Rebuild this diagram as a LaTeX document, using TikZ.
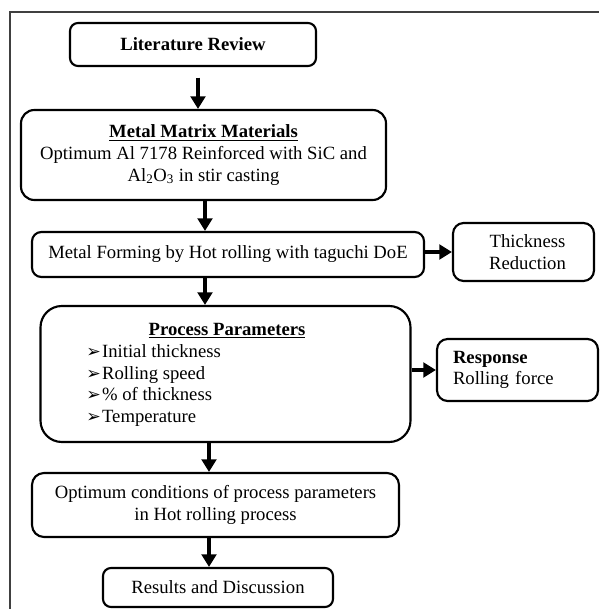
\documentclass[tikz,border=0pt]{standalone}
\usepackage{fontspec}
\setmainfont{Liberation Serif}
\newfontfamily\arrowfont{DejaVu Sans}
\usetikzlibrary{arrows.meta}
\newcommand{\pitem}{{\arrowfont\fontsize{13}{12}\selectfont ➢}\hspace{1pt}}

\begin{document}
\begin{tikzpicture}[x=0.75pt,y=0.75pt,yscale=-1,xscale=1,
  box/.style={draw, line width=1.6pt, inner sep=0pt, align=center, font=\fontsize{14}{16.2}\selectfont},
  txt/.style={inner sep=0pt, font=\fontsize{14}{16.3}\selectfont},
  flow/.style={line width=3pt, -{Triangle[length=9.5pt,width=11pt]}}]
\useasboundingbox (0,0) rectangle (599,609);
% frame
\draw [line width=1.1pt, black!75] (10,609) -- (10,12) -- (599,12) ;
% boxes
\node [box, rounded corners=6pt, minimum width=184.5pt, minimum height=32.25pt] (lit) at (193,44.5) {\textbf{Literature Review}};
\node [box, rounded corners=10pt, minimum width=273.75pt, minimum height=67.5pt] (mmm) at (203.5,155) {\underline{\textbf{Metal Matrix Materials}}\\Optimum Al 7178 Reinforced with SiC and\\Al\textsubscript{2}O\textsubscript{3} in stir casting};
\node [box, rounded corners=7pt, minimum width=294pt, minimum height=33.75pt] (forming) at (228,254.5) {Metal Forming by Hot rolling with taguchi DoE};
\node [box, rounded corners=8pt, minimum width=105.75pt, minimum height=43.5pt, text width=105.75pt, inner xsep=0pt] (thick) at (523.5,252) {\hspace*{6pt}Thickness\\\hspace*{6pt}Reduction};
\node [box, rounded corners=16pt, minimum width=277.5pt, minimum height=102pt] (params) at (225.5,374) {};
\node [txt] (paramtitle) at (227,331) {\underline{\textbf{Process Parameters}}};
\node [txt, anchor=west, align=left] (paramlist) at (86,385.5) {\pitem Initial thickness\\\pitem Rolling speed\\\pitem \% of thickness\\\pitem Temperature};
\node [box, rounded corners=8pt, align=left, text width=96.75pt, inner xsep=12pt, minimum height=46.5pt] (resp) at (517.5,370) {\textbf{Response}\\Rolling force};
\node [box, rounded corners=9pt, minimum width=275.25pt, minimum height=48pt] (optimum) at (215.5,505) {Optimum conditions of process parameters\\in Hot rolling process};
\node [box, rounded corners=6pt, minimum width=172.5pt, minimum height=29.25pt] (results) at (218,587.5) {Results and Discussion};
% arrows
\coordinate (colA) at (198,0);
\coordinate (colB) at (205,0);
\coordinate (colC) at (209,0);
\draw [flow, shorten <=8pt] (lit.south -| colA) -- (mmm.north -| colA);
\draw [flow] (mmm.south -| colB) -- (forming.north -| colB);
\draw [flow] (forming.south -| colB) -- (params.north -| colB);
\draw [flow] (params.south -| colC) -- (optimum.north -| colC);
\draw [flow] (optimum.south -| colC) -- (results.north -| colC);
\draw [flow] (forming.east |- thick.west) -- (thick.west);
\draw [flow] (params.east |- resp.west) -- (resp.west);
\end{tikzpicture}
\end{document}
